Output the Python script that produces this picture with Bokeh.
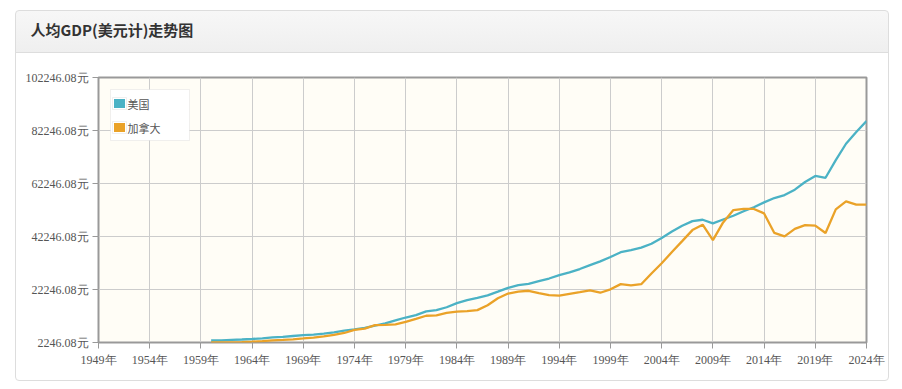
from bokeh.plotting import figure
from bokeh.models import (FixedTicker, BoxAnnotation, Label, Range1d, ColumnDataSource, Title)
from bokeh.embed import file_html
from bokeh.resources import INLINE

title_text = "人均GDP(美元计)走势图"
series_names = ["美国", "加拿大"]

years = list(range(1960, 2025))

usa = [3007, 3067, 3244, 3375, 3574, 3828, 4146, 4336, 4696, 5032,
       5234, 5609, 6094, 6726, 7226, 7801, 8592, 9453, 10565, 11674,
       12575, 13976, 14434, 15544, 17121, 18237, 19071, 20039, 21417, 22857,
       23889, 24342, 25419, 26387, 27695, 28691, 29968, 31459, 32854, 34515,
       36330, 37134, 38023, 39496, 41712, 44115, 46299, 48050, 48570, 47195,
       48651, 50066, 51784, 53291, 55124, 56763, 57867, 59915, 62805, 65095,
       64412, 71056, 77247, 81695, 85810]

canada = [2259, 2240, 2269, 2374, 2555, 2770, 3047, 3217, 3463, 3764,
          4122, 4520, 5090, 5839, 7033, 7512, 8809, 8919, 9124, 10044,
          11171, 12337, 12482, 13425, 13877, 14115, 14461, 16309, 18937, 20716,
          21448, 21768, 20880, 20121, 19935, 20614, 21227, 21901, 21025, 22316,
          24271, 23822, 24255, 28300, 32143, 36383, 40504, 44660, 46711, 40876,
          47562, 52224, 52670, 52635, 50956, 43596, 42316, 45129, 46549, 46374,
          43562, 52497, 55522, 54300, 54250]

x_ticks = [1949, 1954, 1959, 1964, 1969, 1974, 1979, 1984, 1989, 1994,
           1999, 2004, 2009, 2014, 2019, 2024]
x_tick_labels = ["1949年", "1954年", "1959年", "1964年", "1969年", "1974年",
                 "1979年", "1984年", "1989年", "1994年", "1999年", "2004年",
                 "2009年", "2014年", "2019年", "2024年"]
y_ticks = [2246.08, 22246.08, 42246.08, 62246.08, 82246.08, 102246.08]
y_tick_labels = ["2246.08元", "22246.08元", "42246.08元", "62246.08元",
                 "82246.08元", "102246.08元"]

colors = ["#4bb2c5", "#eaa228"]

panel_css = {
    "margin-left": "15px",
    "margin-top": "10px",
    "border": "1px solid #dddddd",
    "border-radius": "4px",
    "background": "linear-gradient(to bottom, #f7f7f7 0px, #efefef 41px, "
                  "#dddddd 41px, #dddddd 42px, #ffffff 42px)",
}

p = figure(width=874, height=371, output_backend="svg", toolbar_location=None,
           title=None,
           x_range=Range1d(x_ticks[0], x_ticks[-1]),
           y_range=Range1d(y_ticks[0], y_ticks[-1]),
           min_border_left=82, min_border_right=24,
           min_border_top=66, min_border_bottom=40,
           styles=panel_css)

p.background_fill_color = "#fffdf6"
p.border_fill_alpha = 0
p.outline_line_color = "#999999"
p.outline_line_width = 2

# spacer keeps the heading inside the grey header band
p.add_layout(Title(text=" ", text_font_size="12px", standoff=19), "above")
p.add_layout(Title(text=title_text, align="left", offset=-68, standoff=6,
                   text_font="Noto Sans CJK SC", text_font_style="bold",
                   text_font_size="15px", text_color="#333333"), "above")

tick_font = "Liberation Sans Narrow"
for ax in (p.xaxis[0], p.yaxis[0]):
    ax.axis_line_color = None
    ax.major_tick_line_color = "#999999"
    ax.major_tick_in = 0
    ax.major_tick_out = 6
    ax.minor_tick_line_color = None
    ax.major_label_text_font = tick_font
    ax.major_label_text_font_size = "12px"
    ax.major_label_text_color = "#555555"
    ax.major_label_standoff = 4

p.xaxis.ticker = FixedTicker(ticks=x_ticks)
p.xaxis.major_label_overrides = dict(zip(x_ticks, x_tick_labels))
p.yaxis.ticker = FixedTicker(ticks=y_ticks)
p.yaxis.major_label_overrides = dict(zip(y_ticks, y_tick_labels))

p.xgrid.grid_line_color = "#cccccc"
p.ygrid.grid_line_color = "#cccccc"

src = ColumnDataSource(data=dict(year=years, usa=usa, canada=canada))
p.line("year", "usa", source=src, line_color=colors[0], line_width=2.3)
p.line("year", "canada", source=src, line_color=colors[1], line_width=2.3)

# legend box drawn inside the frame (screen units: from frame left / bottom)
def sbox(l, r, b, t, **kw):
    return BoxAnnotation(left=l, right=r, bottom=b, top=t,
                         left_units="screen", right_units="screen",
                         bottom_units="screen", top_units="screen", **kw)

p.add_layout(sbox(12, 91, 202, 253, fill_color="white", fill_alpha=1,
                  line_color="#cccccc", line_width=1))
swatch_y = [(233, 245), (209, 221)]
for (b, t), c, name in zip(swatch_y, colors, series_names):
    p.add_layout(sbox(14, 28, b, t, fill_color="white", fill_alpha=1,
                      line_color="#cccccc", line_width=1))
    p.add_layout(sbox(15.5, 26.5, b + 1.5, t - 1.5, fill_color=c, fill_alpha=1,
                      line_color=None))
    p.add_layout(Label(x=29, y=(b + t) / 2, x_units="screen", y_units="screen",
                       text=name, text_font="Noto Sans CJK SC",
                       text_font_size="11px", text_color="#555555",
                       text_baseline="middle", text_align="left"))

open("out.html", "w").write(file_html(p, INLINE))
